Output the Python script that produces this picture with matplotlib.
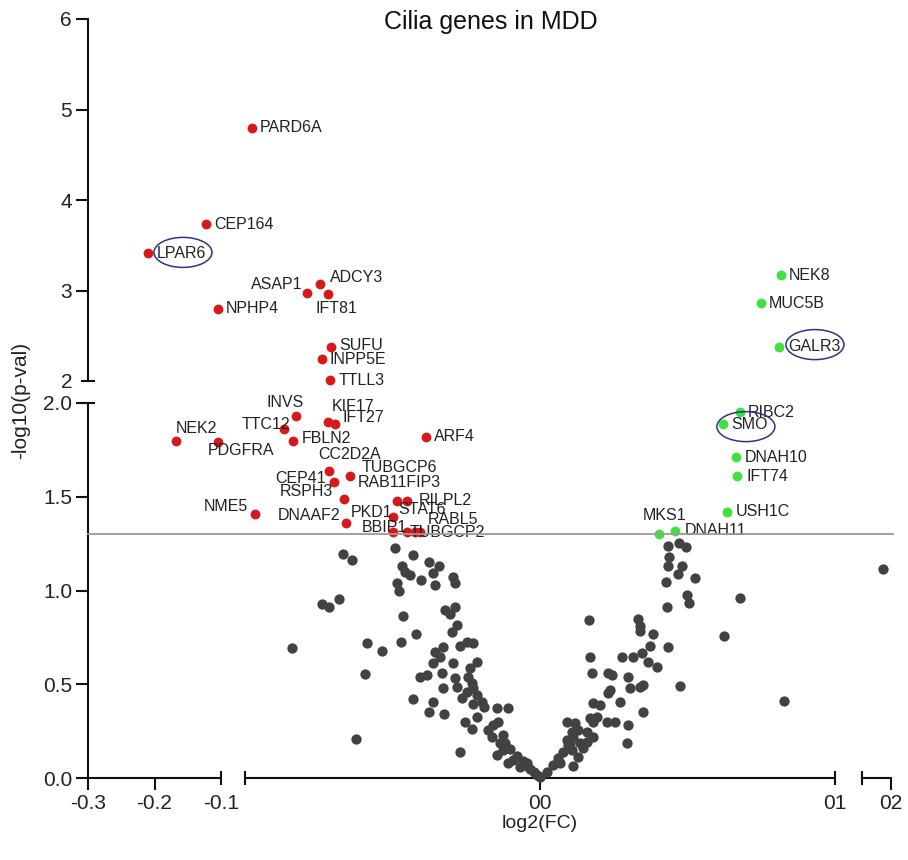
import matplotlib
matplotlib.use("Agg")
import matplotlib.pyplot as plt
import matplotlib.transforms as mtransforms
from matplotlib.patches import Ellipse

plt.rcParams['font.family'] = ['Liberation Sans', 'DejaVu Sans']

# cilia genes lower in MDD (red)
down_genes = ["PARD6A", "CEP164", "LPAR6", "ASAP1", "ADCY3", "IFT81", "NPHP4",
              "SUFU", "INPP5E", "TTLL3", "INVS", "KIF17", "IFT27", "TTC12",
              "FBLN2", "NEK2", "PDGFRA", "ARF4", "CC2D2A", "TUBGCP6", "CEP41",
              "RSPH3", "RAB11FIP3", "RILPL2", "NME5", "PKD1", "DNAAF2",
              "BBIP1", "STAT6", "TUBGCP2", "RABL5"]
down_fc = [-0.0976, -0.1226, -0.2098, -0.0790, -0.0746, -0.0719, -0.1045,
           -0.0708, -0.0739, -0.0712, -0.0827, -0.0719, -0.0695, -0.0868,
           -0.0837, -0.1677, -0.1045, -0.0386, -0.0715, -0.0644, -0.0698,
           -0.0664, -0.0485, -0.0451, -0.0966, -0.0498, -0.0658,
           -0.0498, -0.0451, -0.0424, -0.0407]
down_p = [4.80, 3.73, 3.41, 2.97, 3.07, 2.96, 2.80,
          2.38, 2.24, 2.01, 1.93, 1.90, 1.89, 1.86,
          1.80, 1.80, 1.79, 1.82, 1.64, 1.61, 1.58,
          1.49, 1.48, 1.48, 1.41, 1.39, 1.36,
          1.31, 1.31, 1.31, 1.31]

# cilia genes higher in MDD (green)
up_genes = ["NEK8", "MUC5B", "GALR3", "RIBC2", "SMO", "DNAH10", "IFT74",
            "USH1C", "MKS1", "DNAH11"]
up_fc = [0.0817, 0.0749, 0.0810, 0.0678, 0.0620, 0.0664, 0.0668,
         0.0634, 0.0403, 0.0458]
up_p = [3.17, 2.86, 2.38, 1.95, 1.89, 1.71, 1.61, 1.42, 1.30, 1.32]

# remaining cilia genes (not significant)
ns_fc = [-0.0668, -0.0637, -0.0492, -0.0431, -0.0376, -0.0342, -0.0468, -0.0458,
         -0.0441, -0.0485, -0.0478, -0.0403, -0.0363, -0.0356, -0.0295, -0.0288,
         -0.0739, -0.0715, -0.0681, -0.0464, -0.0420, -0.0322, -0.0288, -0.0305,
         -0.0281, -0.0298, -0.0841, -0.0586, -0.0536, -0.0471, -0.0356, -0.0329,
         -0.0339, -0.0363, -0.0383, -0.0407, -0.0271, -0.0247, -0.0227, -0.0593,
         -0.0332, -0.0329, -0.0295, -0.0214, -0.0237, -0.0288, -0.0244, -0.0281,
         -0.0231, -0.0227, -0.0431, -0.0363, -0.0376, -0.0325, -0.0264, -0.0247,
         -0.0214, -0.0197, -0.0227, -0.0190, -0.0146, -0.0108, -0.0624, -0.0254,
         -0.0214, -0.0231, -0.0159, -0.0142, -0.0163, -0.0176, -0.0125, -0.0271,
         -0.0146, -0.0119, -0.0102, -0.0078, -0.0108, -0.0058, -0.0092, -0.0044,
         -0.0034, -0.0020, -0.0010, 0.0000, -0.0136, -0.0125, -0.0068, -0.0044,
         0.0024, 0.0044, 0.0061, 0.0078, 0.0095, 0.0092, 0.0112, 0.0108,
         0.0092, 0.0119, 0.0129, 0.0159, 0.0159, 0.0146, 0.0112, 0.0129,
         0.0102, 0.0180, 0.0068, 0.0108, 0.0136,
         0.0180, 0.0193, 0.0169, 0.0180, 0.0203, 0.0227, 0.0254,
         0.0176, 0.0231, 0.0244, 0.0237, 0.0231, 0.0271, 0.0298, 0.0305,
         0.0339, 0.0349, 0.0298, 0.0295, 0.0349, 0.0366, 0.0397, 0.0475,
         0.0166, 0.0169, 0.0278, 0.0315, 0.0346, 0.0373, 0.0332, 0.0339,
         0.0339, 0.0383, 0.0434, 0.0431, 0.0427, 0.0434, 0.0471, 0.0495,
         0.0437, 0.0434, 0.0481, 0.0468, 0.0525, 0.0498, 0.0505,
         0.0678, 0.0624, 0.0827, 0.1945]
ns_p = [1.195, 1.163, 1.227, 1.189, 1.152, 1.131, 1.131, 1.099,
        1.083, 1.040, 0.997, 1.056, 1.093, 1.029, 1.072, 1.040,
        0.928, 0.912, 0.955, 0.864, 0.768, 0.896, 0.912, 0.875,
        0.816, 0.779, 0.693, 0.720, 0.677, 0.725, 0.672, 0.699,
        0.645, 0.613, 0.549, 0.539, 0.704, 0.725, 0.720, 0.555,
        0.560, 0.480, 0.613, 0.619, 0.587, 0.533, 0.539, 0.485,
        0.507, 0.480, 0.421, 0.405, 0.352, 0.341, 0.427, 0.459,
        0.443, 0.405, 0.395, 0.379, 0.373, 0.373, 0.208, 0.299,
        0.325, 0.261, 0.283, 0.299, 0.219, 0.256, 0.229, 0.139,
        0.123, 0.187, 0.155, 0.117, 0.080, 0.091, 0.096, 0.064,
        0.048, 0.032, 0.016, 0.003, 0.187, 0.149, 0.059, 0.080,
        0.032, 0.069, 0.107, 0.139, 0.176, 0.203, 0.219, 0.245,
        0.299, 0.293, 0.256, 0.245, 0.192, 0.160, 0.064, 0.112,
        0.187, 0.219, 0.080, 0.149, 0.187,
        0.299, 0.325, 0.320, 0.400, 0.389, 0.299, 0.299,
        0.560, 0.560, 0.549, 0.469, 0.453, 0.405, 0.539, 0.480,
        0.485, 0.496, 0.283, 0.187, 0.352, 0.619, 0.592, 0.491,
        0.843, 0.645, 0.645, 0.645, 0.667, 0.704, 0.848, 0.811,
        0.784, 0.768, 0.699, 0.912, 1.045, 1.237, 1.253, 1.232,
        1.179, 1.131, 1.131, 1.088, 1.067, 0.976, 0.933,
        0.960, 0.757, 0.411, 1.115]

p_cutoff = 1.3

# label placement: offset in pixels from the dot, alignment
label_pos = {
    "PARD6A": (8, 0, "left"), "CEP164": (8, 0, "left"), "LPAR6": (9, 0, "left"),
    "ASAP1": (-4, 9, "right"), "ADCY3": (10, 7, "left"), "IFT81": (-12, -14, "left"),
    "NPHP4": (8, 0, "left"), "SUFU": (8, 1, "left"), "INPP5E": (8, 0, "left"),
    "TTLL3": (9, 0, "left"), "INVS": (-11, 14, "center"), "KIF17": (4, 15, "left"),
    "IFT27": (8, 6, "left"), "TTC12": (6, 5, "right"), "FBLN2": (9, 2, "left"),
    "NEK2": (0, 12, "left"), "PDGFRA": (-10, -8, "left"), "ARF4": (8, 0, "left"),
    "CC2D2A": (-11, 16, "left"), "TUBGCP6": (12, 9, "left"), "CEP41": (-8, 3, "right"),
    "RSPH3": (-11, 7, "right"), "RAB11FIP3": (-39, 18, "left"), "RILPL2": (12, 0, "left"),
    "NME5": (-7, 7, "right"), "PKD1": (-1, 5, "right"), "STAT6": (-9, 23, "left"),
    "DNAAF2": (-6, 7, "right"), "BBIP1": (-31, 5, "left"), "RABL5": (8, 13, "left"),
    "TUBGCP2": (-5, 0, "left"),
    "NEK8": (8, 0, "left"), "MUC5B": (8, 0, "left"), "GALR3": (9, 0, "left"),
    "RIBC2": (8, 0, "left"), "SMO": (8, -1, "left"), "DNAH10": (9, 0, "left"),
    "IFT74": (9, 0, "left"), "USH1C": (9, 0, "left"), "MKS1": (-16, 19, "left"),
    "DNAH11": (10, 0, "left"),
}
# rings around highlighted genes: centre offset and size, pixels
rings = {"LPAR6": (35, 1, 58, 30), "GALR3": (36, 2, 58, 30), "SMO": (23, -3, 58, 30)}

W, H = 908, 860
fig = plt.figure(figsize=(W / 100, H / 100), dpi=100)


def box(x0, x1, ytop, ybot):
    return [x0 / W, 1 - ybot / H, (x1 - x0) / W, (ybot - ytop) / H]


ax_ul = fig.add_axes(box(88, 221, 19, 381))
ax_um = fig.add_axes(box(245, 835, 19, 381))
ax_ll = fig.add_axes(box(88, 221, 403, 778))
ax_lm = fig.add_axes(box(245, 835, 403, 778))
ax_lr = fig.add_axes(box(862, 891, 403, 778))

axcol = '#111111'
for ax, xl, yl in [(ax_ul, (-0.3, -0.1), (2, 6)), (ax_um, (-0.1, 0.1), (2, 6)),
                   (ax_ll, (-0.3, -0.1), (0, 2)), (ax_lm, (-0.1, 0.1), (0, 2)),
                   (ax_lr, (0.18, 0.2), (0, 2))]:
    ax.set_xlim(*xl)
    ax.set_ylim(*yl)
    ax.set_facecolor('none')
    for s in ax.spines.values():
        s.set_visible(False)
        s.set_linewidth(1.5)
        s.set_color(axcol)
    ax.tick_params(length=8.5, width=1.5, color=axcol, labelsize=15,
                   labelcolor='#222222', pad=3)

ax_ul.spines['left'].set_visible(True)
ax_ll.spines['left'].set_visible(True)
for ax in (ax_ll, ax_lm, ax_lr):
    ax.spines['bottom'].set_visible(True)

ax_ul.set_yticks([2, 3, 4, 5, 6], ["2", "3", "4", "5", "6"])
ax_ll.set_yticks([0, 0.5, 1.0, 1.5, 2.0], ["0.0", "0.5", "1.0", "1.5", "2.0"])
ax_ll.set_xticks([-0.3, -0.2, -0.1], ["-0.3", "-0.2", "-0.1"])
ax_lm.set_xticks([0, 0.1], ["00", "01"])
ax_lr.set_xticks([0.2], ["02"])
for ax in (ax_ul, ax_um):
    ax.set_xticks([])
for ax in (ax_um, ax_lm, ax_lr):
    ax.set_yticks([])

# ticks that sit on an axis break are drawn as caps instead
ax_ul.yaxis.get_major_ticks()[0].tick1line.set_visible(False)
ax_ll.xaxis.get_major_ticks()[2].tick1line.set_visible(False)
ax_lm.xaxis.get_major_ticks()[1].tick1line.set_visible(False)


def cap(ax, xa, ya, marker):
    ax.plot([xa], [ya], marker=marker, ms=10, mew=1.5, color=axcol,
            transform=ax.transAxes, clip_on=False)


cap(ax_ll, 1, 0, '|')
cap(ax_lm, 0, 0, '|')
cap(ax_lm, 1, 0, '|')
cap(ax_lr, 0, 0, '|')
cap(ax_ul, 0, 0, '_')
cap(ax_ll, 0, 1, '_')


def panel(x, y):
    if y > 2.0:
        return ax_ul if x < -0.1 else ax_um
    if x < -0.1:
        return ax_ll
    if x > 0.15:
        return ax_lr
    return ax_lm


# significance cut-off across the whole lower panel
trans = mtransforms.blended_transform_factory(fig.transFigure, ax_lm.transData)
fig.add_artist(plt.Line2D([88 / W, 893 / W], [p_cutoff, p_cutoff], transform=trans,
                          color='#9a9a9a', lw=1.3))

for x, y in zip(ns_fc, ns_p):
    panel(x, y).scatter(x, y, s=55, color='#424242', lw=0, clip_on=False, zorder=3)


def draw_genes(genes, fcs, ps, color):
    for g, x, y in zip(genes, fcs, ps):
        ax = panel(x, y)
        ax.scatter(x, y, s=50, color=color, lw=0, clip_on=False, zorder=4)
        dx, dy, ha = label_pos[g]
        ax.annotate(g, (x, y), xytext=(dx, dy), textcoords='offset pixels',
                    ha=ha, va='center', fontsize=11.5, color='#222222',
                    annotation_clip=False, zorder=5)
        if g in rings:
            ox, oy, w, h = rings[g]
            t = fig.dpi_scale_trans + mtransforms.ScaledTranslation(x, y, ax.transData)
            fig.add_artist(Ellipse((ox / 100, oy / 100), w / 100, h / 100,
                                   transform=t, fc='none', ec='#2e3192', lw=1.1))


draw_genes(down_genes, down_fc, down_p, '#d7191c')
draw_genes(up_genes, up_fc, up_p, '#3fe03f')

fig.text(491 / W, 1 - 22 / H, "Cilia genes in MDD", ha='center', va='center',
         fontsize=18, color='#111111')
fig.text(540 / W, 1 - 823 / H, "log2(FC)", ha='center', va='center',
         fontsize=14, color='#222222')
fig.text(21 / W, 1 - 400 / H, "-log10(p-val)", ha='center', va='center',
         rotation=90, fontsize=15, color='#222222')

fig.savefig("out.png", dpi=100)
